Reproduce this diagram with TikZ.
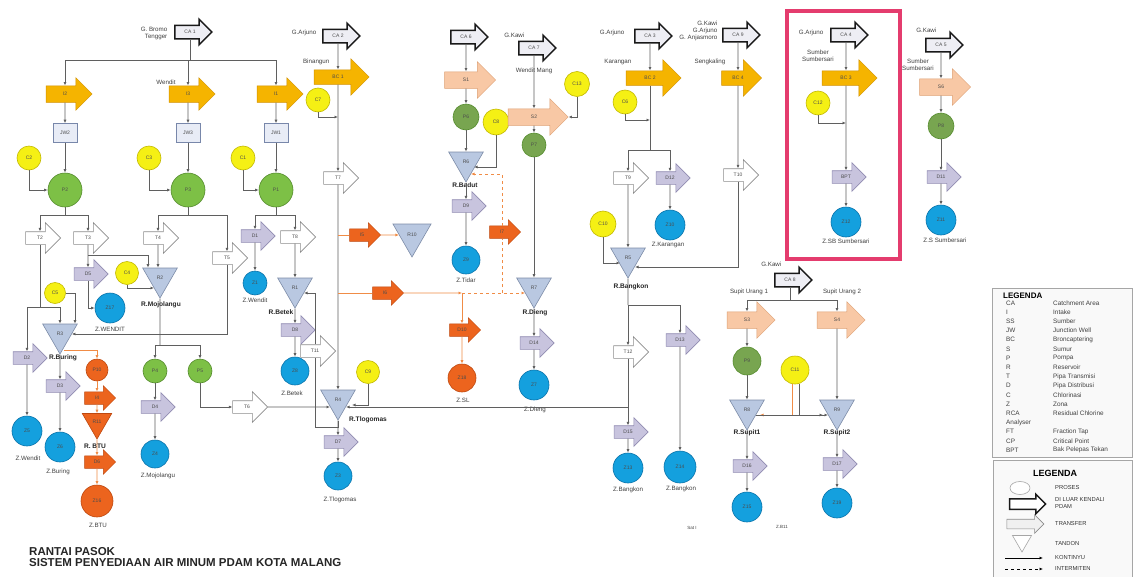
\documentclass[tikz,border=0pt]{standalone}
\usepackage{fontspec}
\setmainfont{Liberation Sans}
\usetikzlibrary{shapes.arrows,shapes.geometric,arrows.meta,calc}
\definecolor{linegray}{RGB}{95,95,95}
\definecolor{gold}{RGB}{245,180,0}
\definecolor{golddk}{RGB}{210,145,0}
\definecolor{peachc}{RGB}{248,200,165}
\definecolor{peachdk}{RGB}{222,160,115}
\definecolor{lilac}{RGB}{200,196,222}
\definecolor{lilacdk}{RGB}{145,140,178}
\definecolor{tri}{RGB}{185,200,225}
\definecolor{tridk}{RGB}{125,140,168}
\definecolor{yel}{RGB}{245,240,20}
\definecolor{yeldk}{RGB}{195,185,0}
\definecolor{grn}{RGB}{125,192,70}
\definecolor{grndk}{RGB}{85,140,45}
\definecolor{olv}{RGB}{120,165,80}
\definecolor{blu}{RGB}{20,160,222}
\definecolor{bludk}{RGB}{10,115,170}
\definecolor{org}{RGB}{236,100,30}
\definecolor{orgdk}{RGB}{190,72,15}
\definecolor{orgline}{RGB}{240,140,70}
\definecolor{pinkc}{RGB}{228,60,110}
\definecolor{cafill}{RGB}{238,238,244}
\definecolor{jwfill}{RGB}{232,236,246}
\definecolor{jwdk}{RGB}{120,135,170}
\tikzset{
 lbl/.style={font=\fontsize{6.2}{7}\selectfont, text=black!75, inner sep=0.5pt},
 rlbl/.style={font=\bfseries\fontsize{6.6}{7.2}\selectfont, text=black!85, inner sep=0.5pt},
 shtxt/.style={font=\fontsize{5}{5.5}\selectfont, text=black!70},
 arrbase/.style={single arrow, single arrow head indent=0pt, inner xsep=1pt, text height=2.6pt, text depth=0.4pt, shtxt},
 ca/.style={arrbase, draw=black!90, line width=1.5pt, fill=cafill, inner ysep=4.5pt, single arrow head extend=6pt, minimum height=37pt},
 intake/.style={arrbase, draw=golddk, line width=0.5pt, fill=gold, inner ysep=6.5pt, single arrow head extend=8pt, minimum height=46pt},
 bc/.style={arrbase, draw=golddk, line width=0.5pt, fill=gold, inner ysep=5.5pt, single arrow head extend=11pt, minimum height=55pt},
 peach/.style={arrbase, draw=peachdk, line width=0.5pt, fill=peachc, inner ysep=6.5pt, single arrow head extend=10pt, minimum height=51pt},
 tarr/.style={arrbase, draw=black!45, line width=0.6pt, fill=white, inner ysep=4.5pt, single arrow head extend=9pt, minimum height=35pt},
 darr/.style={arrbase, draw=lilacdk, line width=0.6pt, fill=lilac, inner ysep=4.5pt, single arrow head extend=8pt, minimum height=34pt},
 oarr/.style={arrbase, draw=orgdk, line width=0.5pt, fill=org, inner ysep=4.5pt, single arrow head extend=6pt, minimum height=31pt},
 jw/.style={rectangle, draw=jwdk, fill=jwfill, line width=0.6pt, minimum width=24pt, minimum height=19pt, inner sep=0pt, shtxt},
 tank/.style={regular polygon, regular polygon sides=3, shape border rotate=180, draw=tridk, fill=tri, line width=0.6pt, minimum size=40pt, inner sep=0pt, shtxt},
 otank/.style={tank, draw=orgdk, fill=org, minimum size=34pt},
 cy/.style={circle, draw=yeldk, fill=yel, line width=0.6pt, minimum size=24pt, inner sep=0pt, shtxt},
 cg/.style={circle, draw=grndk, fill=grn, line width=0.6pt, minimum size=34pt, inner sep=0pt, shtxt},
 cb/.style={circle, draw=bludk, fill=blu, line width=0.6pt, minimum size=30pt, inner sep=0pt, shtxt},
 co/.style={circle, draw=orgdk, fill=org, line width=0.6pt, minimum size=28pt, inner sep=0pt, shtxt},
 cn/.style={draw=linegray, line width=0.7pt, -{Latex[length=3.5pt,width=3pt]}},
 ln/.style={draw=linegray, line width=0.7pt},
 ocn/.style={draw=orgline, line width=0.8pt, -{Latex[length=3.5pt,width=3pt]}},
 oln/.style={draw=orgline, line width=0.8pt},
 lgl/.style={font=\fontsize{6.4}{7}\selectfont, text=black!75, inner sep=0pt, anchor=west},
 lgl2/.style={font=\fontsize{5.8}{6.6}\selectfont, text=black!80, inner sep=0pt, anchor=west, align=left},
}
\begin{document}
\begin{tikzpicture}[x=1pt,y=-1pt]
\useasboundingbox[fill=white] (0,0) rectangle (1133,576);
\draw[pinkc, line width=3.5pt] (787,11) rectangle (900,259);

% ---------------- left block
\node[ca] (CA1) at (190,32) {CA 1};
\node[lbl, anchor=east, align=right] (tCA1) at (168,33) {G. Bromo\\Tengger};
\node[intake] (I2) at (65,94) {I2};
\node[intake] (I3) at (188,94) {I3};
\node[intake] (I1) at (276,94) {I1};
\node[lbl] (tI3) at (166,82) {Wendit};
\node[jw] (JW2) at (65,133) {JW2};
\node[jw] (JW3) at (188,133) {JW3};
\node[jw] (JW1) at (276,133) {JW1};
\node[cy] (C2) at (29,158) {C2};
\node[cy] (C3) at (149,158) {C3};
\node[cy] (C1) at (243,158) {C1};
\node[cg] (P2) at (65,190) {P2};
\node[cg] (P3) at (188,190) {P3};
\node[cg] (P1) at (276,190) {P1};
\node[tarr] (T2) at (40,238) {T2};
\node[tarr] (T3) at (88,238) {T3};
\node[tarr] (T4) at (158,238) {T4};
\node[tarr] (T5) at (227,258) {T5};
\node[darr] (D1) at (255,236) {D1};
\node[tarr] (T8) at (295,237) {T8};
\node[darr] (D2) at (27,358) {D2};
\node[cb] (ZW) at (27,431) {Z5};
\node[lbl] (tZW) at (28,458) {Z.Wendit};
\node[cy, minimum size=21pt] (C5) at (55,293) {C5};
\node[tank] (R3) at (60,334) {R3};
\node[rlbl] (tR3) at (63,358) {R.Buring};
\node[darr] (DA) at (88,274) {D5};
\node[cb] (Z17) at (110,308) {Z17};
\node[lbl] (tZ17) at (110,329) {Z.WENDIT};
\node[cy, minimum size=23pt] (C4) at (127,273) {C4};
\node[tank] (R2) at (160,278) {R2};
\node[rlbl] (tR2) at (161,305) {R.Mojolangu};
\node[darr] (D3) at (60,386) {D3};
\node[cb] (ZBur) at (60,447) {Z6};
\node[lbl] (tZBur) at (58,472) {Z.Buring};
\node[co, minimum size=22pt] (OP) at (97,370) {P10};
\node[oarr] (OA) at (97,398) {I4};
\node[otank] (RO) at (97,422) {R11};
\node[rlbl] (tRO) at (95,446) {R. BTU};
\node[oarr] (OB) at (97,462) {D6};
\node[co, minimum size=32pt] (OZ2) at (97,501) {Z16};
\node[lbl] (tOZ2) at (98,525) {Z.BTU};
\node[cg, minimum size=24pt] (P4) at (155,371) {P4};
\node[cg, minimum size=24pt] (P5) at (200,371) {P5};
\node[darr] (D4) at (155,407) {D4};
\node[cb, minimum size=28pt] (ZMoj) at (155,454) {Z4};
\node[lbl] (tZMoj) at (158,476) {Z.Mojolangu};
\node[tarr] (T6) at (247,407) {T6};
\node[cb, minimum size=24pt] (Z1) at (255,283) {Z1};
\node[lbl] (tZ1) at (255,300) {Z.Wendit};
\node[tank] (R1) at (295,288) {R1};
\node[rlbl] (tR1) at (281,312) {R.Betek};
\node[darr] (D8) at (295,330) {D8};
\node[cb, minimum size=28pt] (ZBet) at (295,371) {Z8};
\node[lbl] (tZBet) at (292,393) {Z.Betek};

% ---------------- main column
\node[ca] (CA2) at (338,36) {CA 2};
\node[lbl, anchor=east] (tCA2) at (317,33) {G.Arjuno};
\node[bc] (BC1) at (338,77) {BC 1};
\node[lbl, anchor=east] (tBC1) at (330,62) {Binangun};
\node[cy] (C7) at (318,100) {C7};
\node[tarr] (T7) at (338,178) {T7};
\node[oarr] (O1) at (362,235) {I5};
\node[tank, minimum size=44pt] (R10) at (412,235) {R10};
\node[oarr] (O2) at (385,293) {I6};
\node[tank] (R4) at (338,400) {R4};
\node[rlbl] (tR4) at (368,420) {R.Tlogomas};
\node[tarr] (T11) at (315,351) {T11};
\node[darr] (D5) at (338,442) {D7};
\node[cb, minimum size=28pt] (ZTl) at (338,476) {Z3};
\node[lbl] (tZTl) at (340,500) {Z.Tlogomas};
\node[cy, minimum size=23pt] (C9) at (368,372) {C9};

% ---------------- CA6 column
\node[ca] (CA6) at (466,37) {CA 6};
\node[peach] (S1) at (466,80) {S1};
\node[cg, minimum size=26pt, fill=olv] (P6) at (466,117) {P6};
\node[cy, minimum size=26pt] (C8) at (496,122) {C8};
\node[tank] (R6) at (466,162) {R6};
\node[rlbl] (tR6) at (465,185) {R.Badut};
\node[darr] (D9) at (466,206) {D9};
\node[cb, minimum size=28pt] (ZTi) at (466,260) {Z9};
\node[lbl] (tZTi) at (466,280) {Z.Tidar};
\node[oarr] (O3) at (502,232) {I7};
\node[oarr] (O4) at (462,330) {D10};
\node[co, minimum size=28pt] (OZ) at (462,378) {Z18};
\node[lbl] (tOZ) at (463,400) {Z.SL};

% ---------------- CA7 column
\node[ca] (CA7) at (534,48) {CA 7};
\node[lbl, anchor=east] (tCA7) at (525,35) {G.Kawi};
\node[peach, minimum height=60pt] (S2) at (534,117) {S2};
\node[lbl, fill=white] (tS2) at (534,71) {Wendit Mang};
\node[cy, minimum size=25pt] (C13) at (577,84) {C13};
\node[cg, minimum size=24pt, fill=olv] (P7) at (534,145) {P7};
\node[tank] (R7) at (534,288) {R7};
\node[rlbl] (tR7) at (535,313) {R.Dieng};
\node[darr] (D14) at (534,343) {D14};
\node[cb] (ZDi) at (534,385) {Z7};
\node[lbl] (tZDi) at (535,410) {Z.Dieng};

% ---------------- CA3 column
\node[ca] (CA3) at (650,36) {CA 3};
\node[lbl, anchor=east] (tCA3) at (625,33) {G.Arjuno};
\node[lbl, anchor=east] (tBC2) at (632,62) {Karangan};
\node[bc] (BC2) at (650,78) {BC 2};
\node[cy] (C6) at (625,102) {C6};
\node[tarr] (T9) at (628,178) {T9};
\node[darr] (DK) at (670,178) {D12};
\node[cb] (ZKa) at (670,225) {Z10};
\node[lbl] (tZKa) at (668,245) {Z.Karangan};
\node[cy, minimum size=26pt] (C10) at (603,224) {C10};
\node[tank] (R5) at (628,258) {R5};
\node[rlbl] (tR5) at (631,287) {R.Bangkon};
\node[darr] (DB2) at (680,340) {D13};
\node[cb, minimum size=32pt] (ZBa2) at (680,467) {Z14};
\node[lbl] (tZBa2) at (681,489) {Z.Bangkon};
\node[tarr] (T12) at (628,352) {T12};
\node[darr] (DB) at (628,432) {D15};
\node[cb] (ZBa) at (628,468) {Z13};
\node[lbl] (tZBa) at (628,490) {Z.Bangkon};

% ---------------- CA9 column
\node[ca] (CA9) at (738,35) {CA 9};
\node[lbl, anchor=east, align=right] (tCA9) at (718,31) {G.Kawi\\G.Arjuno\\G. Anjasmoro};
\node[lbl, anchor=east] (tBC4) at (726,62) {Sengkaling};
\node[bc, minimum height=40pt] (BC4) at (738,78) {BC 4};
\node[tarr] (T10) at (738,175) {T10};

% ---------------- pink box column
\node[ca] (CA4) at (846,35) {CA 4};
\node[lbl, anchor=east] (tCA4) at (824,33) {G.Arjuno};
\node[lbl, align=center] (tBC3) at (818,56) {Sumber\\Sumbersari};
\node[bc] (BC3) at (846,78) {BC 3};
\node[cy] (C12) at (818,103) {C12};
\node[darr] (BPT) at (846,177) {BPT};
\node[cb] (ZSB) at (846,222) {Z12};
\node[lbl] (tZSB) at (846,241) {Z.SB Sumbersari};

% ---------------- CA5 column
\node[ca] (CA5) at (941,45) {CA 5};
\node[lbl, anchor=east] (tCA5) at (937,30) {G.Kawi};
\node[lbl, align=center] (tS6) at (918,65) {Sumber\\Sumbersari};
\node[peach] (S6) at (941,87) {S6};
\node[cg, minimum size=26pt, fill=olv] (P8) at (941,126) {P8};
\node[darr] (D11) at (941,177) {D11};
\node[cb] (ZSS) at (941,220) {Z11};
\node[lbl] (tZSS) at (945,240) {Z.S Sumbersari};

% ---------------- CA8 block
\node[ca] (CA8) at (790,280) {CA 8};
\node[lbl, anchor=east] (tCA8) at (782,264) {G.Kawi};
\node[lbl] (tS3) at (749,292) {Supit Urang 1};
\node[lbl] (tS4) at (842,292) {Supit Urang 2};
\node[peach, minimum height=48pt] (S3) at (747,320) {S3};
\node[peach, minimum height=48pt] (S4) at (837,320) {S4};
\node[cg, minimum size=28pt, fill=olv] (P9) at (747,361) {P9};
\node[cy, minimum size=28pt] (C11) at (795,370) {C11};
\node[tank] (R8) at (747,410) {R8};
\node[rlbl] (tR8) at (747,433) {R.Supit1};
\node[tank] (R9) at (837,410) {R9};
\node[rlbl] (tR9) at (837,433) {R.Supit2};
\node[darr] (D15) at (747,466) {D16};
\node[cb] (ZS1) at (747,507) {Z15};
\node[darr] (D16) at (837,464) {D17};
\node[cb] (ZS2) at (837,503) {Z19};
\node[lbl, font=\fontsize{4.5}{5}\selectfont] (tZS1) at (692,528) {Sat I};
\node[lbl, font=\fontsize{4.5}{5}\selectfont] (tZS2) at (782,527) {Z.B11};

% ================= connectors
\coordinate (jA) at (190,60);
\draw[ln] (CA1) -- (jA);
\draw[ln] (I2 |- jA) -- (I1 |- jA);
\draw[cn] (I2 |- jA) -- (I2);
\draw[cn] (I3 |- jA) -- (I3);
\draw[cn] (I1 |- jA) -- (I1);
\foreach \a/\b in {I2/JW2, JW2/P2, I3/JW3, JW3/P3, I1/JW1, JW1/P1}
  \draw[cn] (\a) -- (\b);
\draw[cn] (C2) |- (P2);
\draw[cn] (C3) |- (P3);
\draw[cn] (C1) |- (P1);

\coordinate (jP2) at (65,215);
\draw[ln] (P2) -- (jP2);
\draw[ln] (T2 |- jP2) -- (T3 |- jP2);
\draw[cn] (T2 |- jP2) -- (T2);
\draw[cn] (T3 |- jP2) -- (T3);
\coordinate (jT2) at (40,307);
\draw[ln] (T2) -- (jT2);
\draw[cn] (jT2) -| (D2);
\draw[cn] (D2) -- (ZW);
\draw[cn] (jT2) -| (R3);
\draw[cn] (C5) -| ([xshift=15pt]R3.north);
\coordinate (jT3) at (88,255);
\draw[cn] (T3) -- (DA);
\draw[cn] (jT3) -| ([xshift=-12pt]R2.north);
\draw[cn] (DA) |- (Z17);

\coordinate (jP3) at (188,215);
\draw[ln] (P3) -- (jP3);
\draw[ln] (T4 |- jP3) -- (T5 |- jP3);
\draw[cn] (T4 |- jP3) -- (T4);
\draw[cn] (T5 |- jP3) -- (T5);
\draw[cn] (T4) -- (T4 |- R2.north);
\draw[cn] (T5) |- (R3);
\draw[cn] (C4) |- ([xshift=-6pt,yshift=-10pt]R2.center);
\coordinate (jR2) at (160,345);
\draw[ln] (R2) -- (jR2);
\draw[ln] (P4 |- jR2) -- (P5 |- jR2);
\draw[cn] (P4 |- jR2) -- (P4);
\draw[cn] (P5 |- jR2) -- (P5);
\draw[cn] (P4) -- (D4);
\draw[cn] (D4) -- (ZMoj);
\draw[cn] (P5) |- (T6);
\draw[cn] (T6) -- ([xshift=-8pt,yshift=-7pt]R4.center);
\draw[cn] (R3) -- (D3);
\draw[cn] (D3) -- (ZBur);
\draw[ocn] ([xshift=4pt,yshift=-16pt]R3.center) -| (OP);
\draw[ocn] (OP) -- (OA);
\draw[ocn] (OA) -- (RO);
\draw[ocn] (RO) -- (OB);
\draw[ocn] (OB) -- (OZ2);

\coordinate (jP1) at (276,215);
\draw[ln] (P1) -- (jP1);
\draw[ln] (D1 |- jP1) -- (T8 |- jP1);
\draw[cn] (D1 |- jP1) -- (D1);
\draw[cn] (T8 |- jP1) -- (T8);
\draw[cn] (D1) -- (Z1);
\draw[cn] (T8) -- (R1);
\draw[cn] (R1) -- (D8);
\draw[cn] (D8) -- (ZBet);
\coordinate (jR4) at (315,427);
\draw[ln] (R4) |- (jR4);
\draw[ln] (jR4) -- (T11);
\draw[cn] (T11) |- ([xshift=9pt,yshift=-5pt]R1.center);

% main column
\draw[cn] (CA2) -- (BC1);
\draw[cn] (BC1) -- (T7);
\draw[cn] (T7) -- (R4);
\coordinate (jC7) at (338,117);
\draw[cn] (C7) |- (jC7);
\coordinate (jO1) at (338,235);
\draw[oln] (jO1) -- (O1);
\draw[ocn] (O1) -- (R10);
\coordinate (jO2) at (338,293);
\coordinate (jO3) at (462,293);
\coordinate (jO4) at (502,293);
\draw[oln] (jO2) -- (O2);
\draw[ocn] (O2) -- (jO3);
\draw[ocn, dashed] (jO3) -- ([xshift=-9pt,yshift=-5pt]R7.center);
\draw[ocn] (jO3) -- (O4);
\draw[ocn] (O4) -- (OZ);
\draw[oln, dashed] (jO4) -- (O3);
\draw[ocn, dashed] (O3) |- ([xshift=5pt,yshift=-12pt]R6.center);
\draw[cn] (R4) -- (D5);
\draw[cn] (D5) -- (ZTl);
\draw[cn] (C9) |- ([xshift=14pt,yshift=-5pt]R4.center);

% CA6 column
\draw[cn] (CA6) -- (S1);
\draw[cn] (S1) -- (P6);
\draw[cn] (P6) -- (R6);
\draw[cn] (R6) -- (D9);
\draw[cn] (D9) -- (ZTi);
\draw[cn] (C8) |- ([xshift=8pt,yshift=-5pt]R6.center);

% CA7 column
\draw[cn] (CA7) -- (S2);
\draw[cn] (S2) -- (P7);
\draw[cn] (P7) -- (R7);
\draw[cn] (R7) -- (D14);
\draw[cn] (D14) -- (ZDi);
\draw[cn] (C13) |- (S2);

% CA3 column
\coordinate (jC6) at (650,120);
\coordinate (jK) at (650,150);
\draw[cn] (CA3) -- (BC2);
\draw[ln] (BC2) -- (jK);
\draw[cn] (C6) |- (jC6);
\draw[ln] (T9 |- jK) -- (DK |- jK);
\draw[cn] (T9 |- jK) -- (T9);
\draw[cn] (DK |- jK) -- (DK);
\draw[cn] (DK) -- (ZKa);
\draw[cn] (T9) -- (R5);
\draw[cn] (C10) |- ([xshift=-8pt,yshift=-5pt]R5.center);

% CA9 column
\draw[cn] (CA9) -- (BC4);
\draw[cn] (BC4) -- (T10);
\draw[cn] (T10) |- ([xshift=7pt,yshift=-9pt]R5.center);

% below R5
\coordinate (jB) at (628,305);
\coordinate (jB2) at (628,407);
\draw[ln] (R5) -- (jB);
\draw[cn] (jB) -| (DB2);
\draw[cn] (DB2) -- (ZBa2);
\draw[cn] (jB) -- (T12);
\draw[ln] (T12) -- (jB2);
\draw[cn] (jB2) -- ([xshift=8pt,yshift=-7pt]R4.center);
\draw[cn] (jB2) -- (DB);
\draw[cn] (DB) -- (ZBa);

% pink column
\coordinate (jC12) at (846,123);
\draw[cn] (CA4) -- (BC3);
\draw[cn] (BC3) -- (BPT);
\draw[cn] (BPT) -- (ZSB);
\draw[cn] (C12) |- (jC12);

% CA5 column
\draw[cn] (CA5) -- (S6);
\draw[cn] (S6) -- (P8);
\draw[cn] (P8) -- (D11);
\draw[cn] (D11) -- (ZSS);

% CA8 block
\coordinate (jS) at (790,300);
\draw[ln] (CA8) -- (jS);
\draw[ln] (S3 |- jS) -- (S4 |- jS);
\draw[cn] (S3 |- jS) -- (S3);
\draw[cn] (S4 |- jS) -- (S4);
\draw[cn] (S3) -- (P9);
\draw[cn] (P9) -- (R8);
\draw[cn] (S4) -- (R9);
\draw[cn] (R8) -- (D15);
\draw[cn] (D15) -- (ZS1);
\draw[cn] (R9) -- (D16);
\draw[cn] (D16) -- (ZS2);
\draw[ocn] ([xshift=-3pt]C11.south) |- ([xshift=13pt,yshift=-5pt]R8.center);
\draw[cn] ([xshift=4pt]C11.south) |- ([xshift=-14pt,yshift=-5pt]R9.center);
\draw[cn] ([xshift=9pt,yshift=-5pt]R8.center) -- ([xshift=-9pt,yshift=-5pt]R9.center);

% ================= legends
\node[draw=gray!70, fill=gray!5, line width=0.9pt, minimum width=140pt, minimum height=169pt, anchor=north west, inner sep=0pt] (LG1) at (992,288) {};
\node[font=\bfseries\fontsize{8}{9}\selectfont, anchor=west, inner sep=0pt] (LG1t) at (1003,296) {LEGENDA};
\foreach \k/\v [count=\i from 0] in {CA/Catchment Area, I/Intake, SS/Sumber, JW/Junction Well, BC/Broncaptering, S/Sumur, P/Pompa, R/Reservoir, T/Pipa Transmisi, D/Pipa Distribusi, C/Chlorinasi, Z/Zona, RCA/Residual Chlorine, Analyser/{}, FT/Fraction Tap, CP/Critical Point, BPT/Bak Pelepas Tekan} {
  \node[lgl] (lk\i) at (1006, 303+9.19*\i) {\k};
  \node[lgl] (lv\i) at (1053, 303+9.19*\i) {\v};
}
\node[draw=gray!70, fill=gray!5, line width=0.9pt, minimum width=139pt, minimum height=118pt, anchor=north west, inner sep=0pt] (LG2) at (993,460) {};
\node[font=\bfseries\fontsize{9}{10}\selectfont, inner sep=0pt] (LG2t) at (1055,473) {LEGENDA};
\node[ellipse, draw=gray!70, fill=white, line width=0.6pt, minimum width=20pt, minimum height=13pt, inner sep=0pt] (lgP) at (1020,488) {};
\node[lgl2] (lgPt) at (1055,487) {PROSES};
\node[ca, minimum height=36pt, inner ysep=3pt, single arrow head extend=4.5pt, fill=white] (lgCA) at (1025,504) {};
\node[lgl2] (lgCAt) at (1055,503) {DI LUAR KENDALI\\PDAM};
\node[tarr, minimum height=37pt, inner ysep=3pt, single arrow head extend=4.5pt, fill=gray!12] (lgT) at (1023,524) {};
\node[lgl2] (lgTt) at (1055,523) {TRANSFER};
\node[tank, minimum size=22pt, fill=white, draw=gray!70] (lgR) at (1022,541) {};
\node[lgl2] (lgRt) at (1055,543) {TANDON};
\coordinate (lgA1) at (1005,558);
\coordinate (lgA2) at (1043,558);
\draw[cn, draw=black] (lgA1) -- (lgA2);
\node[lgl2] (lgAt) at (1055,557) {KONTINYU};
\coordinate (lgB1) at (1005,569);
\coordinate (lgB2) at (1043,569);
\draw[cn, draw=black, dashed] (lgB1) -- (lgB2);
\node[lgl2] (lgBt) at (1055,568) {INTERMITEN};

% ================= title
\node[anchor=west, font=\bfseries\fontsize{11.5}{12}\selectfont, inner sep=0pt, text=black!85] (title1) at (29,552) {RANTAI PASOK};
\node[anchor=west, font=\bfseries\fontsize{11.5}{12}\selectfont, inner sep=0pt, text=black!85] (title2) at (29,563) {SISTEM PENYEDIAAN AIR MINUM PDAM KOTA MALANG};
\end{tikzpicture}
\end{document}
